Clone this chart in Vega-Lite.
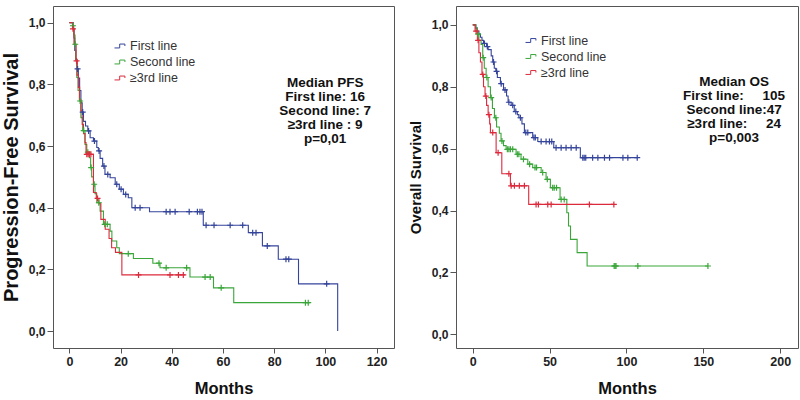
{
  "$schema": "https://vega.github.io/schema/vega-lite/v6.json",
  "background": "white",
  "padding": {"left": 0, "top": 5, "right": 0, "bottom": 0},
  "spacing": 12,
  "config": {
    "font": "Liberation Sans",
    "view": {"stroke": "#555", "strokeWidth": 1},
    "axis": {"domain": false, "grid": false, "tickColor": "#555", "tickSize": 6, "labelColor": "#222", "labelFontWeight": "bold", "labelFont": "Liberation Sans", "titleFont": "Liberation Sans", "titleFontWeight": "bold", "titleColor": "#111"},
    "axisX": {"labelFontSize": 12.5, "labelPadding": 2, "tickSize": 5, "titleFontSize": 16.5, "titlePadding": 13},
    "axisY": {"labelFontSize": 12, "labelPadding": 2, "titlePadding": 7},
    "legend": {"padding": 0, "offset": 0}
  },
  "datasets": {
    "pfs_curve": [
      {"group": "First line", "month": 0, "surv": 1},
      {"group": "First line", "month": 1.5, "surv": 0.98},
      {"group": "First line", "month": 1.8, "surv": 0.95},
      {"group": "First line", "month": 2.1, "surv": 0.91},
      {"group": "First line", "month": 2.5, "surv": 0.88},
      {"group": "First line", "month": 3, "surv": 0.85},
      {"group": "First line", "month": 3.5, "surv": 0.82},
      {"group": "First line", "month": 4, "surv": 0.78},
      {"group": "First line", "month": 4.5, "surv": 0.74},
      {"group": "First line", "month": 5, "surv": 0.71},
      {"group": "First line", "month": 5.5, "surv": 0.68},
      {"group": "First line", "month": 6.3, "surv": 0.665},
      {"group": "First line", "month": 7.2, "surv": 0.649},
      {"group": "First line", "month": 8.1, "surv": 0.627},
      {"group": "First line", "month": 9.4, "surv": 0.616},
      {"group": "First line", "month": 10.7, "surv": 0.595},
      {"group": "First line", "month": 11.3, "surv": 0.584},
      {"group": "First line", "month": 12, "surv": 0.56},
      {"group": "First line", "month": 13, "surv": 0.535},
      {"group": "First line", "month": 13.9, "surv": 0.508},
      {"group": "First line", "month": 15.9, "surv": 0.497},
      {"group": "First line", "month": 17.9, "surv": 0.476},
      {"group": "First line", "month": 19.5, "surv": 0.46},
      {"group": "First line", "month": 21.1, "surv": 0.443},
      {"group": "First line", "month": 23, "surv": 0.432},
      {"group": "First line", "month": 24.4, "surv": 0.4},
      {"group": "First line", "month": 31.3, "surv": 0.387},
      {"group": "First line", "month": 52.3, "surv": 0.343},
      {"group": "First line", "month": 69.9, "surv": 0.319},
      {"group": "First line", "month": 75.4, "surv": 0.276},
      {"group": "First line", "month": 81.6, "surv": 0.233},
      {"group": "First line", "month": 89.5, "surv": 0.153},
      {"group": "First line", "month": 104.8, "surv": 0.0},
      {"group": "Second line", "month": 0, "surv": 1},
      {"group": "Second line", "month": 1.3, "surv": 0.99},
      {"group": "Second line", "month": 1.7, "surv": 0.96},
      {"group": "Second line", "month": 2.2, "surv": 0.93},
      {"group": "Second line", "month": 2.5, "surv": 0.88},
      {"group": "Second line", "month": 2.9, "surv": 0.822},
      {"group": "Second line", "month": 3.4, "surv": 0.78},
      {"group": "Second line", "month": 3.9, "surv": 0.746},
      {"group": "Second line", "month": 4.5, "surv": 0.692},
      {"group": "Second line", "month": 5.2, "surv": 0.65},
      {"group": "Second line", "month": 6.1, "surv": 0.605},
      {"group": "Second line", "month": 6.8, "surv": 0.58},
      {"group": "Second line", "month": 7.8, "surv": 0.562},
      {"group": "Second line", "month": 8.3, "surv": 0.53},
      {"group": "Second line", "month": 8.7, "surv": 0.5},
      {"group": "Second line", "month": 9.4, "surv": 0.476},
      {"group": "Second line", "month": 10, "surv": 0.445},
      {"group": "Second line", "month": 10.7, "surv": 0.416},
      {"group": "Second line", "month": 12, "surv": 0.389},
      {"group": "Second line", "month": 13.3, "surv": 0.346},
      {"group": "Second line", "month": 15.9, "surv": 0.324},
      {"group": "Second line", "month": 16.6, "surv": 0.292},
      {"group": "Second line", "month": 18.5, "surv": 0.27},
      {"group": "Second line", "month": 19.5, "surv": 0.251},
      {"group": "Second line", "month": 25, "surv": 0.235},
      {"group": "Second line", "month": 32.6, "surv": 0.22},
      {"group": "Second line", "month": 35.4, "surv": 0.205},
      {"group": "Second line", "month": 47.1, "surv": 0.175},
      {"group": "Second line", "month": 56.3, "surv": 0.14},
      {"group": "Second line", "month": 64.2, "surv": 0.092},
      {"group": "Second line", "month": 94, "surv": 0.092},
      {"group": "≥3rd line", "month": 0, "surv": 1},
      {"group": "≥3rd line", "month": 1.2, "surv": 0.98},
      {"group": "≥3rd line", "month": 1.8, "surv": 0.93},
      {"group": "≥3rd line", "month": 2.6, "surv": 0.876},
      {"group": "≥3rd line", "month": 3, "surv": 0.83},
      {"group": "≥3rd line", "month": 3.5, "surv": 0.79},
      {"group": "≥3rd line", "month": 4, "surv": 0.75},
      {"group": "≥3rd line", "month": 4.5, "surv": 0.714},
      {"group": "≥3rd line", "month": 5, "surv": 0.67},
      {"group": "≥3rd line", "month": 5.5, "surv": 0.64},
      {"group": "≥3rd line", "month": 6.1, "surv": 0.611},
      {"group": "≥3rd line", "month": 6.5, "surv": 0.573},
      {"group": "≥3rd line", "month": 9.4, "surv": 0.449},
      {"group": "≥3rd line", "month": 10.5, "surv": 0.43},
      {"group": "≥3rd line", "month": 11.5, "surv": 0.413},
      {"group": "≥3rd line", "month": 12.3, "surv": 0.362},
      {"group": "≥3rd line", "month": 14, "surv": 0.33},
      {"group": "≥3rd line", "month": 15.5, "surv": 0.3},
      {"group": "≥3rd line", "month": 16.5, "surv": 0.27},
      {"group": "≥3rd line", "month": 18, "surv": 0.255},
      {"group": "≥3rd line", "month": 20.5, "surv": 0.182},
      {"group": "≥3rd line", "month": 45.2, "surv": 0.182}
    ],
    "pfs_cens": [
      {"group": "First line", "month": 3.2, "surv": 0.85},
      {"group": "First line", "month": 5.2, "surv": 0.71},
      {"group": "First line", "month": 7.5, "surv": 0.649},
      {"group": "First line", "month": 9.8, "surv": 0.616},
      {"group": "First line", "month": 11.6, "surv": 0.584},
      {"group": "First line", "month": 13.5, "surv": 0.535},
      {"group": "First line", "month": 15, "surv": 0.508},
      {"group": "First line", "month": 18.5, "surv": 0.476},
      {"group": "First line", "month": 20.2, "surv": 0.46},
      {"group": "First line", "month": 22, "surv": 0.443},
      {"group": "First line", "month": 25.7, "surv": 0.4},
      {"group": "First line", "month": 27.6, "surv": 0.4},
      {"group": "First line", "month": 37.8, "surv": 0.387},
      {"group": "First line", "month": 39.3, "surv": 0.387},
      {"group": "First line", "month": 41.3, "surv": 0.387},
      {"group": "First line", "month": 46.8, "surv": 0.387},
      {"group": "First line", "month": 50, "surv": 0.387},
      {"group": "First line", "month": 51, "surv": 0.387},
      {"group": "First line", "month": 51.8, "surv": 0.387},
      {"group": "First line", "month": 53.4, "surv": 0.343},
      {"group": "First line", "month": 56.5, "surv": 0.343},
      {"group": "First line", "month": 62.8, "surv": 0.343},
      {"group": "First line", "month": 67.7, "surv": 0.343},
      {"group": "First line", "month": 71.6, "surv": 0.319},
      {"group": "First line", "month": 72.9, "surv": 0.319},
      {"group": "First line", "month": 77.3, "surv": 0.276},
      {"group": "First line", "month": 84.6, "surv": 0.233},
      {"group": "First line", "month": 85.7, "surv": 0.233},
      {"group": "First line", "month": 100.5, "surv": 0.153},
      {"group": "Second line", "month": 1.4, "surv": 0.99},
      {"group": "Second line", "month": 2.3, "surv": 0.93},
      {"group": "Second line", "month": 4.2, "surv": 0.746},
      {"group": "Second line", "month": 5.6, "surv": 0.65},
      {"group": "Second line", "month": 7.2, "surv": 0.58},
      {"group": "Second line", "month": 8.5, "surv": 0.53},
      {"group": "Second line", "month": 9.7, "surv": 0.476},
      {"group": "Second line", "month": 11.5, "surv": 0.416},
      {"group": "Second line", "month": 13.8, "surv": 0.346},
      {"group": "Second line", "month": 14.8, "surv": 0.346},
      {"group": "Second line", "month": 23, "surv": 0.251},
      {"group": "Second line", "month": 35, "surv": 0.22},
      {"group": "Second line", "month": 37.8, "surv": 0.205},
      {"group": "Second line", "month": 45.8, "surv": 0.205},
      {"group": "Second line", "month": 53, "surv": 0.175},
      {"group": "Second line", "month": 55, "surv": 0.175},
      {"group": "Second line", "month": 59.3, "surv": 0.14},
      {"group": "Second line", "month": 92.2, "surv": 0.092},
      {"group": "Second line", "month": 93.3, "surv": 0.092},
      {"group": "≥3rd line", "month": 1.4, "surv": 0.98},
      {"group": "≥3rd line", "month": 2.8, "surv": 0.876},
      {"group": "≥3rd line", "month": 6.8, "surv": 0.573},
      {"group": "≥3rd line", "month": 7.3, "surv": 0.573},
      {"group": "≥3rd line", "month": 7.8, "surv": 0.573},
      {"group": "≥3rd line", "month": 8.4, "surv": 0.573},
      {"group": "≥3rd line", "month": 11, "surv": 0.43},
      {"group": "≥3rd line", "month": 27, "surv": 0.182},
      {"group": "≥3rd line", "month": 39.3, "surv": 0.182},
      {"group": "≥3rd line", "month": 42.6, "surv": 0.182},
      {"group": "≥3rd line", "month": 44.5, "surv": 0.182}
    ],
    "os_curve": [
      {"group": "First line", "month": 0, "surv": 1},
      {"group": "First line", "month": 2, "surv": 0.99},
      {"group": "First line", "month": 3, "surv": 0.98},
      {"group": "First line", "month": 4, "surv": 0.97},
      {"group": "First line", "month": 5, "surv": 0.96},
      {"group": "First line", "month": 6, "surv": 0.95},
      {"group": "First line", "month": 7, "surv": 0.94},
      {"group": "First line", "month": 9, "surv": 0.93},
      {"group": "First line", "month": 10, "surv": 0.92},
      {"group": "First line", "month": 12, "surv": 0.9},
      {"group": "First line", "month": 13, "surv": 0.88},
      {"group": "First line", "month": 14, "surv": 0.86},
      {"group": "First line", "month": 15, "surv": 0.85},
      {"group": "First line", "month": 16, "surv": 0.83},
      {"group": "First line", "month": 18, "surv": 0.81},
      {"group": "First line", "month": 20, "surv": 0.79},
      {"group": "First line", "month": 22, "surv": 0.77},
      {"group": "First line", "month": 23, "surv": 0.75},
      {"group": "First line", "month": 25, "surv": 0.74},
      {"group": "First line", "month": 27, "surv": 0.72},
      {"group": "First line", "month": 29, "surv": 0.71},
      {"group": "First line", "month": 30, "surv": 0.7},
      {"group": "First line", "month": 32, "surv": 0.68},
      {"group": "First line", "month": 33.6, "surv": 0.652},
      {"group": "First line", "month": 39, "surv": 0.636},
      {"group": "First line", "month": 42.3, "surv": 0.623},
      {"group": "First line", "month": 52.7, "surv": 0.603},
      {"group": "First line", "month": 70, "surv": 0.571},
      {"group": "First line", "month": 107, "surv": 0.571},
      {"group": "Second line", "month": 0, "surv": 1},
      {"group": "Second line", "month": 2, "surv": 0.99},
      {"group": "Second line", "month": 3, "surv": 0.97},
      {"group": "Second line", "month": 4, "surv": 0.95},
      {"group": "Second line", "month": 5.4, "surv": 0.937},
      {"group": "Second line", "month": 6.5, "surv": 0.894},
      {"group": "Second line", "month": 7.5, "surv": 0.86},
      {"group": "Second line", "month": 8.7, "surv": 0.83},
      {"group": "Second line", "month": 10, "surv": 0.8},
      {"group": "Second line", "month": 11.5, "surv": 0.765},
      {"group": "Second line", "month": 12.8, "surv": 0.73},
      {"group": "Second line", "month": 14.1, "surv": 0.7},
      {"group": "Second line", "month": 15.5, "surv": 0.67},
      {"group": "Second line", "month": 17.3, "surv": 0.65},
      {"group": "Second line", "month": 18.4, "surv": 0.625},
      {"group": "Second line", "month": 20, "surv": 0.61},
      {"group": "Second line", "month": 21.7, "surv": 0.598},
      {"group": "Second line", "month": 28.2, "surv": 0.582},
      {"group": "Second line", "month": 31.4, "surv": 0.566},
      {"group": "Second line", "month": 35.8, "surv": 0.55},
      {"group": "Second line", "month": 39, "surv": 0.539},
      {"group": "Second line", "month": 44.5, "surv": 0.523},
      {"group": "Second line", "month": 47.7, "surv": 0.501},
      {"group": "Second line", "month": 50.5, "surv": 0.474},
      {"group": "Second line", "month": 56.8, "surv": 0.436},
      {"group": "Second line", "month": 61.2, "surv": 0.393},
      {"group": "Second line", "month": 62.3, "surv": 0.35},
      {"group": "Second line", "month": 63.6, "surv": 0.307},
      {"group": "Second line", "month": 67.9, "surv": 0.264},
      {"group": "Second line", "month": 74.4, "surv": 0.221},
      {"group": "Second line", "month": 153, "surv": 0.221},
      {"group": "≥3rd line", "month": 0, "surv": 1},
      {"group": "≥3rd line", "month": 1.5, "surv": 0.98},
      {"group": "≥3rd line", "month": 3, "surv": 0.95},
      {"group": "≥3rd line", "month": 4, "surv": 0.91},
      {"group": "≥3rd line", "month": 5, "surv": 0.88},
      {"group": "≥3rd line", "month": 6, "surv": 0.84},
      {"group": "≥3rd line", "month": 7, "surv": 0.8},
      {"group": "≥3rd line", "month": 8, "surv": 0.77},
      {"group": "≥3rd line", "month": 9, "surv": 0.74},
      {"group": "≥3rd line", "month": 10, "surv": 0.71},
      {"group": "≥3rd line", "month": 11, "surv": 0.68},
      {"group": "≥3rd line", "month": 11.5, "surv": 0.652},
      {"group": "≥3rd line", "month": 15.2, "surv": 0.587},
      {"group": "≥3rd line", "month": 18.9, "surv": 0.519},
      {"group": "≥3rd line", "month": 24.5, "surv": 0.48},
      {"group": "≥3rd line", "month": 36.4, "surv": 0.42},
      {"group": "≥3rd line", "month": 91.8, "surv": 0.42}
    ],
    "os_cens": [
      {"group": "First line", "month": 7.6, "surv": 0.94},
      {"group": "First line", "month": 9.5, "surv": 0.93},
      {"group": "First line", "month": 13.5, "surv": 0.88},
      {"group": "First line", "month": 15.5, "surv": 0.85},
      {"group": "First line", "month": 18.5, "surv": 0.81},
      {"group": "First line", "month": 21, "surv": 0.79},
      {"group": "First line", "month": 23.5, "surv": 0.75},
      {"group": "First line", "month": 26, "surv": 0.74},
      {"group": "First line", "month": 28, "surv": 0.72},
      {"group": "First line", "month": 31, "surv": 0.7},
      {"group": "First line", "month": 34.5, "surv": 0.652},
      {"group": "First line", "month": 35.8, "surv": 0.652},
      {"group": "First line", "month": 39.8, "surv": 0.636},
      {"group": "First line", "month": 40.7, "surv": 0.636},
      {"group": "First line", "month": 44.5, "surv": 0.623},
      {"group": "First line", "month": 47.7, "surv": 0.623},
      {"group": "First line", "month": 49.9, "surv": 0.623},
      {"group": "First line", "month": 51.4, "surv": 0.623},
      {"group": "First line", "month": 54.2, "surv": 0.603},
      {"group": "First line", "month": 57.5, "surv": 0.603},
      {"group": "First line", "month": 60.7, "surv": 0.603},
      {"group": "First line", "month": 64, "surv": 0.603},
      {"group": "First line", "month": 67.3, "surv": 0.603},
      {"group": "First line", "month": 71.6, "surv": 0.571},
      {"group": "First line", "month": 72.5, "surv": 0.571},
      {"group": "First line", "month": 73.5, "surv": 0.571},
      {"group": "First line", "month": 78, "surv": 0.571},
      {"group": "First line", "month": 81.4, "surv": 0.571},
      {"group": "First line", "month": 85.7, "surv": 0.571},
      {"group": "First line", "month": 89, "surv": 0.571},
      {"group": "First line", "month": 97.7, "surv": 0.571},
      {"group": "First line", "month": 100.9, "surv": 0.571},
      {"group": "First line", "month": 107, "surv": 0.571},
      {"group": "Second line", "month": 3.5, "surv": 0.97},
      {"group": "Second line", "month": 6.8, "surv": 0.894},
      {"group": "Second line", "month": 9.2, "surv": 0.83},
      {"group": "Second line", "month": 12, "surv": 0.765},
      {"group": "Second line", "month": 15, "surv": 0.7},
      {"group": "Second line", "month": 19, "surv": 0.625},
      {"group": "Second line", "month": 22.5, "surv": 0.598},
      {"group": "Second line", "month": 23.5, "surv": 0.598},
      {"group": "Second line", "month": 24.5, "surv": 0.598},
      {"group": "Second line", "month": 26, "surv": 0.598},
      {"group": "Second line", "month": 29, "surv": 0.582},
      {"group": "Second line", "month": 30, "surv": 0.582},
      {"group": "Second line", "month": 33, "surv": 0.566},
      {"group": "Second line", "month": 37, "surv": 0.55},
      {"group": "Second line", "month": 40.5, "surv": 0.539},
      {"group": "Second line", "month": 41.5, "surv": 0.539},
      {"group": "Second line", "month": 45.5, "surv": 0.523},
      {"group": "Second line", "month": 48.5, "surv": 0.501},
      {"group": "Second line", "month": 52, "surv": 0.474},
      {"group": "Second line", "month": 53, "surv": 0.474},
      {"group": "Second line", "month": 54.5, "surv": 0.474},
      {"group": "Second line", "month": 57.5, "surv": 0.436},
      {"group": "Second line", "month": 59.5, "surv": 0.436},
      {"group": "Second line", "month": 92, "surv": 0.221},
      {"group": "Second line", "month": 92.6, "surv": 0.221},
      {"group": "Second line", "month": 93.2, "surv": 0.221},
      {"group": "Second line", "month": 107.4, "surv": 0.221},
      {"group": "Second line", "month": 153, "surv": 0.221},
      {"group": "≥3rd line", "month": 2.2, "surv": 0.98},
      {"group": "≥3rd line", "month": 3.5, "surv": 0.95},
      {"group": "≥3rd line", "month": 6.5, "surv": 0.84},
      {"group": "≥3rd line", "month": 8.5, "surv": 0.77},
      {"group": "≥3rd line", "month": 10.5, "surv": 0.71},
      {"group": "≥3rd line", "month": 13, "surv": 0.652},
      {"group": "≥3rd line", "month": 16.5, "surv": 0.587},
      {"group": "≥3rd line", "month": 23.5, "surv": 0.519},
      {"group": "≥3rd line", "month": 25, "surv": 0.48},
      {"group": "≥3rd line", "month": 27.1, "surv": 0.48},
      {"group": "≥3rd line", "month": 30.3, "surv": 0.48},
      {"group": "≥3rd line", "month": 33.6, "surv": 0.48},
      {"group": "≥3rd line", "month": 41.2, "surv": 0.42},
      {"group": "≥3rd line", "month": 42.7, "surv": 0.42},
      {"group": "≥3rd line", "month": 48.8, "surv": 0.42},
      {"group": "≥3rd line", "month": 51, "surv": 0.42},
      {"group": "≥3rd line", "month": 75.9, "surv": 0.42},
      {"group": "≥3rd line", "month": 91.8, "surv": 0.42}
    ]
  },
  "resolve": {"scale": {"color": "independent"}, "legend": {"color": "independent"}},
  "hconcat": [
    {
      "width": 341,
      "height": 342,
      "layer": [
        {
          "data": {"name": "pfs_curve"},
          "mark": {"type": "line", "interpolate": "step-after", "strokeWidth": 1.1},
          "encoding": {
            "x": {"field": "month", "type": "quantitative", "scale": {"domain": [-6.4, 126.8], "nice": false, "zero": false}, "axis": {"values": [0, 20, 40, 60, 80, 100, 120], "title": "Months"}},
            "y": {"field": "surv", "type": "quantitative", "scale": {"domain": [-0.055, 1.054], "nice": false, "zero": false}, "axis": {"values": [0, 0.2, 0.4, 0.6, 0.8, 1.0], "labelExpr": "replace(format(datum.value, '.1f'), '.', ',')", "title": "Progression-Free Survival", "titleFontSize": 20}},
            "color": {"field": "group", "type": "nominal", "scale": {"domain": ["First line", "Second line", "≥3rd line"], "range": ["#34449a", "#3aa63a", "#dc2a3c"]},
              "legend": {"title": null, "orient": "none", "legendX": 61, "legendY": 33, "symbolType": "M-1,0.3H-0.2V-0.3H0.6V0", "symbolSize": 169, "symbolStrokeWidth": 1, "symbolFillColor": "transparent", "labelFontSize": 12.5, "labelColor": "#333", "labelFont": "Liberation Sans", "rowPadding": 2, "labelOffset": 2, "labelExpr": "datum.label == '≥3rd line' ? '\u00a0≥3rd line' : datum.label"}}
          }
        },
        {
          "data": {"name": "pfs_cens"},
          "mark": {"type": "point", "shape": "M-1,0H1M0,-1V1", "size": 36, "filled": false, "strokeWidth": 1.2, "opacity": 1},
          "encoding": {
            "x": {"field": "month", "type": "quantitative"},
            "y": {"field": "surv", "type": "quantitative"},
            "color": {"field": "group", "type": "nominal", "scale": {"domain": ["First line", "Second line", "≥3rd line"], "range": ["#34449a", "#3aa63a", "#dc2a3c"]}}
          }
        },
        {
          "data": {"values": [{"panel": "PFS"}]},
          "mark": {"type": "text", "text": ["Median PFS", "First line: 16", "Second line: 7", "≥3rd line : 9", "p=0,01"], "align": "center", "baseline": "top", "fontWeight": "bold", "fontSize": 13.5, "lineHeight": 14, "color": "#111", "font": "Liberation Sans"},
          "encoding": {"x": {"datum": 99.9, "type": "quantitative"}, "y": {"datum": 0.826, "type": "quantitative"}}
        }
      ]
    },
    {
      "width": 342,
      "height": 342,
      "layer": [
        {
          "data": {"name": "os_curve"},
          "mark": {"type": "line", "interpolate": "step-after", "strokeWidth": 1.1},
          "encoding": {
            "x": {"field": "month", "type": "quantitative", "scale": {"domain": [-10.9, 211.6], "nice": false, "zero": false}, "axis": {"values": [0, 50, 100, 150, 200], "title": "Months"}},
            "y": {"field": "surv", "type": "quantitative", "scale": {"domain": [-0.044, 1.061], "nice": false, "zero": false}, "axis": {"values": [0, 0.2, 0.4, 0.6, 0.8, 1.0], "labelExpr": "replace(format(datum.value, '.1f'), '.', ',')", "title": "Overall Survival", "titleFontSize": 15, "titlePadding": 8}},
            "color": {"field": "group", "type": "nominal", "scale": {"domain": ["First line", "Second line", "≥3rd line"], "range": ["#34449a", "#3aa63a", "#dc2a3c"]},
              "legend": {"title": null, "orient": "none", "legendX": 69, "legendY": 27.5, "symbolType": "M-1,0.3H-0.2V-0.3H0.6V0", "symbolSize": 169, "symbolStrokeWidth": 1, "symbolFillColor": "transparent", "labelFontSize": 12.5, "labelColor": "#333", "labelFont": "Liberation Sans", "rowPadding": 2, "labelOffset": 2}}
          }
        },
        {
          "data": {"name": "os_cens"},
          "mark": {"type": "point", "shape": "M-1,0H1M0,-1V1", "size": 36, "filled": false, "strokeWidth": 1.2, "opacity": 1},
          "encoding": {
            "x": {"field": "month", "type": "quantitative"},
            "y": {"field": "surv", "type": "quantitative"},
            "color": {"field": "group", "type": "nominal", "scale": {"domain": ["First line", "Second line", "≥3rd line"], "range": ["#34449a", "#3aa63a", "#dc2a3c"]}}
          }
        },
        {
          "data": {"values": [{"panel": "OS"}]},
          "mark": {"type": "text", "text": ["Median OS", "First line:\u00a0\u00a0\u00a0\u00a0 105", "Second line:47", "≥3rd line:\u00a0\u00a0\u00a0\u00a0 24", "p=0,003"], "align": "center", "baseline": "top", "fontWeight": "bold", "fontSize": 13.5, "lineHeight": 14, "color": "#111", "font": "Liberation Sans"},
          "encoding": {"x": {"datum": 170, "type": "quantitative"}, "y": {"datum": 0.838, "type": "quantitative"}}
        }
      ]
    }
  ]
}
